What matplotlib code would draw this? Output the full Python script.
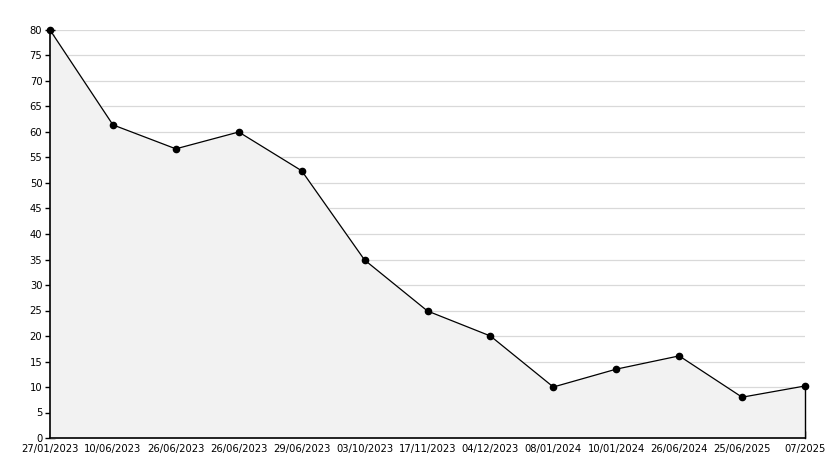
import numpy as np
import matplotlib
matplotlib.use("Agg")
import matplotlib.pyplot as plt
from matplotlib.ticker import MultipleLocator

# fechas y valores
fechas = ["27/01/2023", "10/06/2023", "26/06/2023", "26/06/2023", "29/06/2023",
          "03/10/2023", "17/11/2023", "04/12/2023", "08/01/2024", "10/01/2024",
          "26/06/2024", "25/06/2025", "07/2025"]
valores = [80, 61.4, 56.7, 60.0, 52.4, 34.9, 24.9, 20.0, 10.0, 13.5, 16.1, 8.0, 10.2]

x = np.arange(len(valores))

fig = plt.figure(figsize=(8.34, 4.68), dpi=100)
ax = fig.add_axes([50/834, 30/468, 755/834, 408/468])

ax.fill_between(x, valores, 0, color="#f2f2f2", zorder=1)
ax.plot(x, valores, color="black", lw=0.9, marker="o", ms=4.5, zorder=4, clip_on=False)
ax.plot([x[-1], x[-1]], [0, valores[-1]], color="black", lw=1.0, zorder=4, clip_on=False)

ax.set_xlim(0, len(valores) - 1)
ax.set_ylim(0, 80)
ax.yaxis.set_major_locator(MultipleLocator(5))
ax.yaxis.set_minor_locator(MultipleLocator(1))
ax.set_xticks(x)
ax.set_xticklabels(fechas)

ax.grid(axis="y", color="#d9d9d9", lw=0.9, zorder=0)
ax.set_axisbelow(True)

for s in ["top", "right"]:
    ax.spines[s].set_visible(False)
ax.spines["left"].set_linewidth(1.2)
ax.spines["bottom"].set_linewidth(1.2)

ax.tick_params(axis="y", which="major", direction="inout", length=7, width=1, labelsize=7.2, pad=2)
ax.tick_params(axis="y", which="minor", direction="in", length=3, width=1)
ax.tick_params(axis="x", which="major", direction="in", length=5, width=1, labelsize=7.2, pad=4)

plt.savefig("out.png", dpi=100)
